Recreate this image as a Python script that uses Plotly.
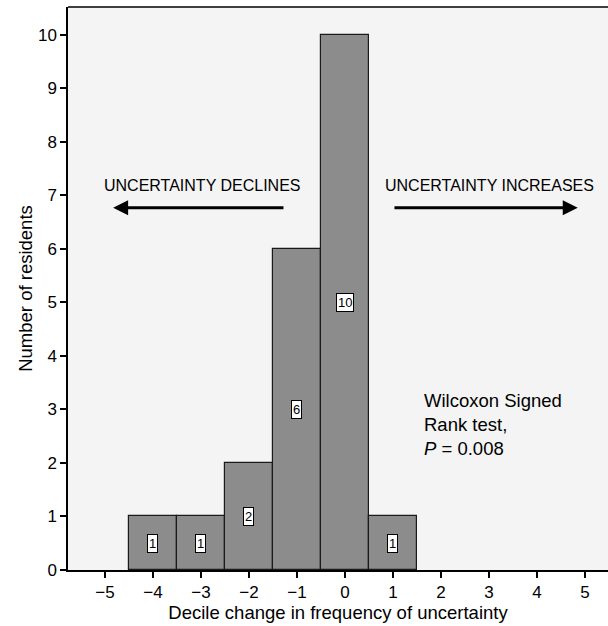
import plotly.graph_objects as go

decile_change = [-4, -3, -2, -1, 0, 1]
residents = [1, 1, 2, 6, 10, 1]
x_ticks = [-5, -4, -3, -2, -1, 0, 1, 2, 3, 4, 5]
y_ticks = list(range(0, 11))

FONT = "Liberation Sans, Arial, Helvetica, sans-serif"

fig = go.Figure()
fig.add_trace(go.Bar(
    x=decile_change, y=residents, width=1,
    marker=dict(color="#8c8c8c", line=dict(color="#1a1a1a", width=1.2)),
    showlegend=False, hoverinfo="skip",
))

anns = []
for xv, yv in zip(decile_change, residents):
    anns.append(dict(x=xv, y=yv / 2, text=str(yv), showarrow=False,
                     bgcolor="white", bordercolor="black", borderwidth=1, borderpad=1,
                     font=dict(family=FONT, size=13, color="black")))

# direction arrows
anns.append(dict(x=-4.83, y=6.77, ax=-1.25, ay=6.77, xref="x", yref="y", axref="x", ayref="y",
                 showarrow=True, arrowhead=2, arrowsize=1, arrowwidth=3, arrowcolor="black", text=""))
anns.append(dict(x=4.85, y=6.77, ax=1.0, ay=6.77, xref="x", yref="y", axref="x", ayref="y",
                 showarrow=True, arrowhead=2, arrowsize=1, arrowwidth=3, arrowcolor="black", text=""))
anns.append(dict(x=-2.98, y=7.18, text="UNCERTAINTY DECLINES", showarrow=False,
                 font=dict(family=FONT, size=16, color="black")))
anns.append(dict(x=3.02, y=7.18, text="UNCERTAINTY INCREASES", showarrow=False,
                 font=dict(family=FONT, size=16, color="black")))
anns.append(dict(x=1.6, y=2.71, xanchor="left", text="Wilcoxon Signed<br>Rank test,<br><i>P</i> = 0.008",
                 showarrow=False, align="left",
                 font=dict(family=FONT, size=18.5, color="black")))

fig.update_layout(
    width=608, height=626,
    margin=dict(l=68, r=0, t=7, b=56),
    paper_bgcolor="white", plot_bgcolor="#f4f4f4",
    font=dict(family=FONT, size=17, color="black"),
    annotations=anns,
    bargap=0,
    shapes=[dict(type="line", xref="paper", yref="paper", x0=0, x1=1, y0=1, y1=1,
                 line=dict(color="black", width=1.5))],
)
fig.update_xaxes(range=[-5.77, 5.48], tickvals=x_ticks,
                 ticktext=[("\u2212" + str(-t)) if t < 0 else str(t) for t in x_ticks],
                 ticks="outside", ticklen=6, tickcolor="black", tickwidth=1.5,
                 showgrid=False, zeroline=False,
                 showline=True, linecolor="black", linewidth=1.5,
                 title=dict(text="Decile change in frequency of uncertainty", standoff=2,
                            font=dict(size=18.5)),
                 tickfont=dict(size=17))
fig.update_yaxes(range=[0, 10.52], tickvals=y_ticks,
                 ticks="outside", ticklen=6, tickcolor="black", tickwidth=1.5,
                 showgrid=False, zeroline=False,
                 showline=True, linecolor="black", linewidth=1.5,
                 title=dict(text="Number of residents", standoff=0, font=dict(size=18.5)),
                 tickfont=dict(size=17))

fig.write_html("out.html", config={"displayModeBar": False},
               post_script="document.body.style.margin='0';document.body.style.overflow='hidden';")
